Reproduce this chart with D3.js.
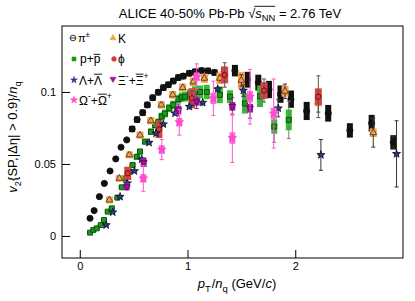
<!DOCTYPE html>
<html><head><meta charset="utf-8">
<script src="https://cdn.jsdelivr.net/npm/d3@7"></script>
<style>
html,body{margin:0;padding:0;background:#fff;}
svg{display:block;font-family:"Liberation Sans",Arial,Helvetica,sans-serif;}
svg text{white-space:pre;}
</style></head><body>
<svg id="chart" width="415" height="301"></svg>
<script>
// ---------- data (x = pT/nq, y = v2/nq) ----------
const piX = [0.095,0.133,0.182,0.228,0.281,0.334,0.383,0.436,0.486,0.532,0.584,0.627,0.677,0.729,0.776,0.822,0.868,0.915,0.961,1.017,1.07,1.13,1.19,1.25,1.34,1.44,1.556,1.657,1.756,1.863,1.96,2.106,2.306,2.507,2.709,2.91];
const piY = [0.0123,0.0176,0.0273,0.0365,0.0451,0.0535,0.0616,0.0667,0.0743,0.0808,0.0856,0.091,0.096,0.0998,0.103,0.105,0.1076,0.110,0.111,0.113,0.114,0.1148,0.1146,0.1135,0.114,0.1148,0.1085,0.1065,0.1017,0.0985,0.095,0.0868,0.0852,0.0733,0.0783,0.065];
const piErr = [0.0004,0.0004,0.0004,0.0004,0.0004,0.0004,0.0004,0.0004,0.0005,0.0005,0.0005,0.0005,0.0005,0.0005,0.0005,0.0005,0.0005,0.0005,0.0006,0.0006,0.0006,0.0007,0.0007,0.0008,0.001,0.001,0.0012,0.0013,0.0015,0.0016,0.0018,0.002,0.0025,0.003,0.0035,0.004];
const piSys = [0.0008,0.0008,0.0008,0.0008,0.0008,0.0008,0.0008,0.0008,0.0022,0.0022,0.0022,0.0022,0.0022,0.0022,0.0022,0.0022,0.0022,0.0022,0.0022,0.0022,0.0022,0.0022,0.0022,0.0022,0.0035,0.004,0.0055,0.0055,0.006,0.006,0.006,0.0063,0.0058,0.005,0.0058,0.005];

const pX = [0.0955,0.126,0.158,0.195,0.225,0.26,0.297,0.349,0.39,0.42,0.46,0.49,0.529,0.559,0.606,0.661,0.70,0.73,0.76,0.79,0.83,0.868,0.915,0.946,0.977,1.02,1.07,1.116,1.178,1.30,1.394,1.533,1.673,1.805,1.94];
const pY = [0.0023,0.0042,0.0053,0.0076,0.0111,0.0169,0.0192,0.0266,0.0338,0.040,0.0447,0.0493,0.055,0.0586,0.0655,0.0724,0.077,0.079,0.083,0.085,0.0887,0.091,0.095,0.0963,0.0967,0.098,0.100,0.100,0.100,0.098,0.0967,0.092,0.097,0.076,0.0806];
const pErr = [0.0005,0.0005,0.0005,0.0005,0.0005,0.0005,0.0005,0.0005,0.0005,0.0005,0.0005,0.0005,0.0005,0.0005,0.0005,0.0005,0.0005,0.0005,0.0005,0.0005,0.0005,0.0005,0.0005,0.0005,0.0005,0.001,0.001,0.0015,0.002,0.003,0.003,0.004,0.006,0.011,0.013];
const pSys = [0.0008,0.0008,0.0008,0.0008,0.001,0.001,0.001,0.0012,0.0012,0.0014,0.0015,0.0016,0.0018,0.002,0.002,0.0022,0.0024,0.0025,0.0026,0.0027,0.0028,0.003,0.003,0.0032,0.0034,0.0036,0.004,0.0045,0.005,0.0058,0.0045,0.007,0.0075,0.005,0.0072];

const kX = [0.275,0.367,0.46,0.559,0.659,0.757,0.863,0.955,1.054,1.156,1.30,1.50,1.905,2.214,2.724];
const kY = [0.025,0.040,0.0563,0.070,0.080,0.091,0.098,0.103,0.107,0.1095,0.1095,0.108,0.1005,0.093,0.0717];
const kErr = [0.0005,0.0005,0.0006,0.0007,0.0008,0.001,0.001,0.0012,0.0015,0.002,0.003,0.004,0.005,0.007,0.010];
const kSys = [0.0024,0.0024,0.0024,0.0025,0.0025,0.0026,0.0027,0.0028,0.003,0.0032,0.004,0.0058,0.0037,0.003,0.003];

const phX = [0.445,0.735,1.04,1.345,1.71,2.214];
const phY = [0.0435,0.074,0.0956,0.1118,0.101,0.0967];
const phErr = [0.002,0.003,0.005,0.0085,0.008,0.0145];
const phSys = [0.0046,0.006,0.007,0.0058,0.0058,0.0058];

const lX = [0.245,0.306,0.374,0.442,0.507,0.575,0.643,0.708,0.776,0.884,1.017,1.141,1.28,1.518,1.842,2.238,2.94];
const lY = [0.0076,0.0165,0.0273,0.0366,0.0451,0.0533,0.0648,0.0713,0.0776,0.0852,0.0898,0.0926,0.102,0.101,0.0887,0.0563,0.057];
const lErr = [0.0008,0.0008,0.0008,0.0009,0.001,0.001,0.0012,0.0013,0.0015,0.0018,0.002,0.0025,0.003,0.004,0.006,0.0107,0.023];
const lSys = [0.001,0.001,0.001,0.001,0.001,0.001,0.001,0.001,0.001,0.001,0.001,0.001,0.001,0.001,0.001,0.001,0.001];

const xiX = [0.436,0.593,0.915,1.085,1.416,1.58];
const xiY = [0.0342,0.051,0.0875,0.0935,0.090,0.0887];
const xiErr = [0.002,0.003,0.004,0.005,0.006,0.007];
const xiSys = [0.0025,0.003,0.003,0.003,0.003,0.003];

const omX = [0.59,0.761,0.924,1.085,1.24,1.416,1.58,1.80];
const omY = [0.040,0.060,0.079,0.1105,0.0956,0.068,0.0967,0.085];
const omErr = [0.009,0.007,0.009,0.009,0.012,0.017,0.019,0.024];
const omSys = [0.003,0.003,0.003,0.003,0.004,0.004,0.004,0.004];

const xTicks = [0, 1, 2];
const xTickLabels = ["0", "1", "2"];
const yTicks = [0, 0.05, 0.1];
const yTickLabels = ["0", "0.05", "0.1"];

// ---------- chart ----------
const svg = d3.select('#chart');
const L = 62, R = 403, T = 26, B = 258;
const x = d3.scaleLinear().domain([-0.165, 3.0]).range([L, R]);
const y = d3.scaleLinear().domain([-0.0153, 0.1458]).range([B, T]);

function rich(parent, runs, size) {
  const g = parent.append('g');
  let cx = 0;
  const overs = [];
  runs.forEach(r => {
    const fs = r.fs ? r.fs : ((r.sub || r.sup) ? size * 0.72 : size);
    const dy = r.sub ? size * 0.3 : (r.sup ? -size * 0.42 : 0);
    const t = g.append('text').attr('x', cx).attr('y', dy).attr('font-size', fs).attr('fill', '#000').text(r.t);
    if (r.it) t.attr('font-style', 'italic');
    const w = t.node().getComputedTextLength();
    if (r.ov) overs.push([cx + (r.ovL || 0), cx + w + (r.ovR || 0), r.ov]);
    cx += w + (r.dx || 0);
  });
  overs.forEach(o => g.append('line').attr('x1', o[0]).attr('x2', o[1])
    .attr('y1', -size * o[2]).attr('y2', -size * o[2]).attr('stroke', '#000').attr('stroke-width', 0.9));
  return { g, w: cx };
}

// axes
const yAxis = d3.axisLeft(y).tickValues(yTicks).tickSize(-8).tickPadding(6)
  .tickFormat((d, i) => yTickLabels[i]);
const gy = svg.append('g').attr('transform', `translate(${L},0)`).call(yAxis);
const xAxis = d3.axisBottom(x).tickValues(xTicks).tickSize(-8).tickPadding(4)
  .tickFormat((d, i) => xTickLabels[i]);
const gx = svg.append('g').attr('transform', `translate(0,${B})`).call(xAxis);
[gx, gy].forEach(g => {
  g.select('.domain').remove();
  g.selectAll('.tick line').attr('stroke', '#000');
  g.selectAll('.tick text').attr('font-size', 11).attr('fill', '#000')
    .attr('font-family', '"Liberation Sans",Arial,sans-serif');
});

// series
const series = [
  { X: piX, Y: piY, E: piErr, S: piSys, sym: d3.symbolCircle, size: 30, fill: '#111', stroke: '#111', box: '#111', bw: 6, err: '#333', rot: 0 },
  { X: pX, Y: pY, E: pErr, S: pSys, sym: d3.symbolSquare, size: 25, fill: '#1a9a1a', stroke: '#073a07', box: '#2fbf2f', bw: 6, err: '#7a7a7a', rot: 0 },
  { X: kX, Y: kY, E: kErr, S: kSys, sym: d3.symbolTriangle, size: 20, fill: '#f7a24a', stroke: '#333', box: '#f7a24a', bw: 7, err: '#333', rot: 0 },
  { X: phX, Y: phY, E: phErr, S: phSys, sym: d3.symbolCircle, size: 22, fill: '#d83a3a', stroke: '#4a0a0a', box: '#db4242', bw: 7, err: '#555', rot: 0 },
  { X: lX, Y: lY, E: lErr, S: lSys, sym: d3.symbolStar, size: 20, fill: '#2a3aa0', stroke: '#111', box: '#2a3aa0', bw: 5, err: '#333', rot: 0 },
  { X: xiX, Y: xiY, E: xiErr, S: xiSys, sym: d3.symbolTriangle, size: 20, fill: '#9a169a', stroke: '#5a005a', box: '#9e1e9e', bw: 6, err: '#8a2a8a', rot: 180 },
  { X: omX, Y: omY, E: omErr, S: omSys, sym: d3.symbolStar, size: 22, fill: '#ff4fd0', stroke: '#ff3fc8', box: '#ff70dc', bw: 6, err: '#ff55cc', rot: 0 }
];

const plot = svg.append('g');
series.forEach(s => {
  const data = s.X.map((v, i) => ({ x: v, y: s.Y[i], e: s.E[i], s: s.S[i] }));
  const g = plot.append('g');
  g.selectAll('rect.sys').data(data).enter().append('rect').attr('class', 'sys')
    .attr('x', d => x(d.x) - s.bw / 2).attr('width', s.bw)
    .attr('y', d => y(d.y + d.s)).attr('height', d => y(d.y - d.s) - y(d.y + d.s))
    .attr('fill', s.box);
  g.selectAll('line.err').data(data).enter().append('line').attr('class', 'err')
    .attr('x1', d => x(d.x)).attr('x2', d => x(d.x))
    .attr('y1', d => y(d.y + d.e)).attr('y2', d => y(d.y - d.e))
    .attr('stroke', s.err).attr('stroke-width', 1);
  ['+', '-'].forEach(sg => {
    g.selectAll('line.cap' + (sg === '+' ? 'u' : 'd')).data(data.filter(d => d.e > 0.003)).enter().append('line')
      .attr('x1', d => x(d.x) - 2).attr('x2', d => x(d.x) + 2)
      .attr('y1', d => y(sg === '+' ? d.y + d.e : d.y - d.e))
      .attr('y2', d => y(sg === '+' ? d.y + d.e : d.y - d.e))
      .attr('stroke', s.err).attr('stroke-width', 1);
  });
  g.selectAll('path.mk').data(data).enter().append('path').attr('class', 'mk')
    .attr('d', d3.symbol().type(s.sym).size(s.size))
    .attr('transform', d => `translate(${x(d.x)},${y(d.y)}) rotate(${s.rot})`)
    .attr('fill', s.fill).attr('stroke', s.stroke).attr('stroke-width', 0.8);
});

// frame
svg.append('rect').attr('x', L).attr('y', T).attr('width', R - L).attr('height', B - T)
  .attr('fill', 'none').attr('stroke', '#000').attr('stroke-width', 1);

// title
const title = rich(svg, [
  { t: 'ALICE 40-50% Pb-Pb ' },
  { t: '√', dx: 0 },
  { t: 's', it: true, ov: 0.86, ovL: -1 },
  { t: 'NN', sub: true, ov: 0.86 },
  { t: ' = 2.76 TeV' }
], 13);
title.g.attr('transform', `translate(${230 - title.w / 2},17.5)`);

// x label
const xl = rich(svg, [
  { t: 'p', it: true },
  { t: 'T', sub: true, dx: 1 },
  { t: '/' },
  { t: 'n', it: true },
  { t: 'q', sub: true },
  { t: ' (GeV/' },
  { t: 'c', it: true },
  { t: ')' }
], 13);
xl.g.attr('transform', `translate(${237 - xl.w / 2},288)`);

// y label
const yl = rich(svg.append('g').attr('transform', 'translate(17,137) rotate(-90)'), [
  { t: 'v', it: true },
  { t: '2', sub: true },
  { t: '{SP,|Δη| > 0.9}/' },
  { t: 'n', it: true },
  { t: 'q', sub: true }
], 13);
yl.g.attr('transform', `translate(${-yl.w / 2},0)`);

// legend
const leg = svg.append('g');
leg.append('circle').attr('cx', 73).attr('cy', 38).attr('r', 2.8).attr('fill', 'none').attr('stroke', '#333').attr('stroke-width', 1);
leg.append('line').attr('x1', 70).attr('x2', 76).attr('y1', 38).attr('y2', 38).attr('stroke', '#333').attr('stroke-width', 1);
rich(leg, [{ t: 'π' }, { t: '±', sup: true }], 11).g.attr('transform', 'translate(78,42)');
function legMark(cx, cy, sym, size, fill, stroke, rot) {
  leg.append('path').attr('d', d3.symbol().type(sym).size(size)())
    .attr('transform', `translate(${cx},${cy}) rotate(${rot || 0})`)
    .attr('fill', fill).attr('stroke', stroke).attr('stroke-width', 0.6);
}
legMark(113, 38, d3.symbolTriangle, 16, '#f7a24a', '#f7a24a');
rich(leg, [{ t: 'K' }], 12).g.attr('transform', 'translate(118,42.5)');
legMark(74, 59, d3.symbolSquare, 16, '#1a9a1a', '#1a9a1a');
rich(leg, [{ t: 'p' }, { t: '+' }, { t: 'p', ov: 0.72 }], 12).g.attr('transform', 'translate(80,63)');
legMark(114, 59, d3.symbolCircle, 18, '#d83a3a', '#d83a3a');
rich(leg, [{ t: 'ϕ' }], 12).g.attr('transform', 'translate(118,63)');
legMark(74, 80, d3.symbolStar, 14, '#2a3aa0', '#2a3aa0');
rich(leg, [{ t: 'Λ' }, { t: '+' }, { t: 'Λ', ov: 0.86 }], 12).g.attr('transform', 'translate(79,84.5)');
legMark(113, 79, d3.symbolTriangle, 16, '#9a169a', '#9a169a', 180);
rich(leg, [{ t: 'Ξ' }, { t: '-', sup: true }, { t: '+' }, { t: 'Ξ', ov: 0.86 }, { t: '+', sup: true }], 12).g.attr('transform', 'translate(118,84.5)');
legMark(74, 100, d3.symbolStar, 16, '#ff4fd0', '#ff4fd0');
rich(leg, [{ t: 'Ω' }, { t: '-', sup: true }, { t: '+' }, { t: 'Ω', ov: 0.86 }, { t: '+', sup: true }], 12).g.attr('transform', 'translate(79,104.5)');
</script>
</body></html>
